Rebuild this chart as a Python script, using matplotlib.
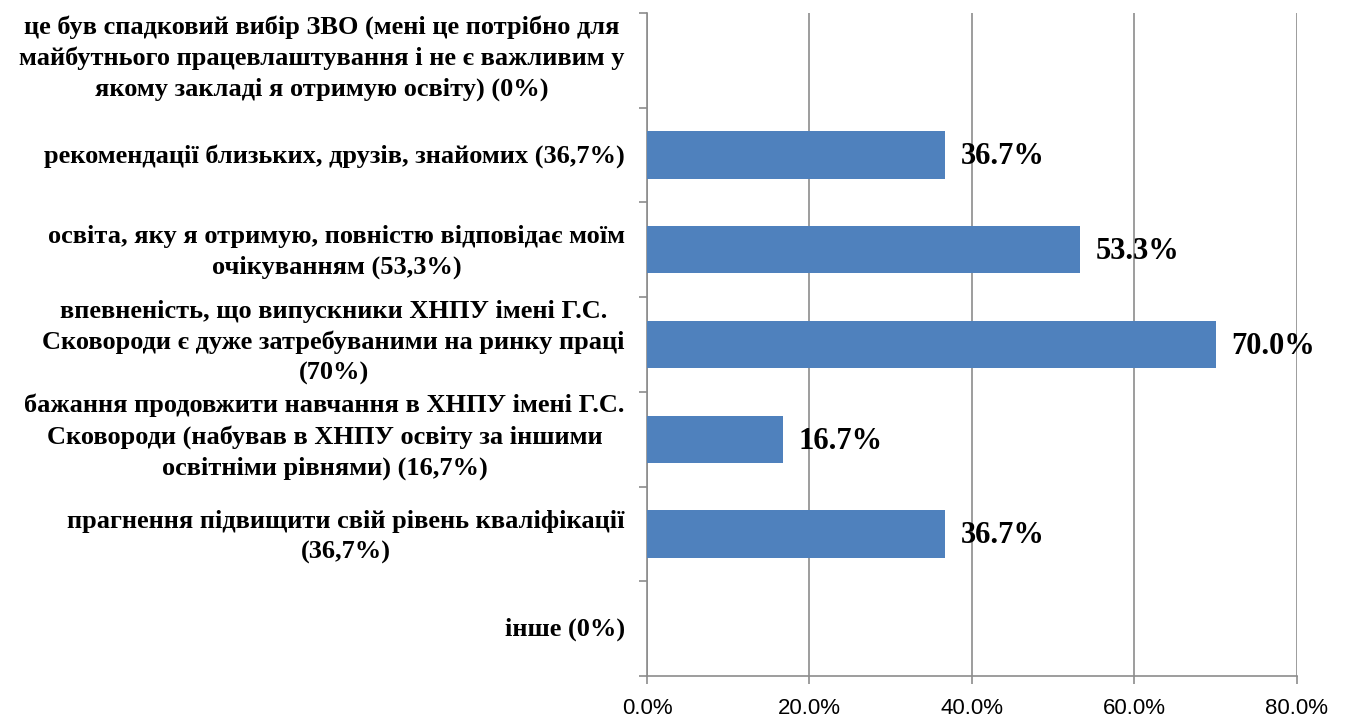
import matplotlib
matplotlib.use("Agg")
import matplotlib.pyplot as plt
import matplotlib.transforms as mtransforms
import numpy as np
from matplotlib.ticker import FixedLocator, PercentFormatter

# categories from bottom to top, as drawn
categories = [
    "інше (0%)",
    "прагнення підвищити свій рівень кваліфікації\n(36,7%)",
    "бажання продовжити навчання в ХНПУ імені Г.С.\nСковороди (набував в ХНПУ освіту за іншими\nосвітніми рівнями) (16,7%)",
    "впевненість, що випускники ХНПУ імені Г.С.\nСковороди є дуже затребуваними на ринку праці\n(70%)",
    "освіта, яку я отримую, повністю відповідає моїм\nочікуванням (53,3%)",
    "рекомендації близьких, друзів, знайомих (36,7%)",
    "це був спадковий вибір ЗВО (мені це потрібно для\nмайбутнього працевлаштування і не є важливим у\nякому закладі я отримую освіту) (0%)",
]
values = [0.0, 36.7, 16.7, 70.0, 53.3, 36.7, 0.0]
x_ticks = [0, 20, 40, 60, 80]

serif = ["Liberation Serif", "DejaVu Serif"]
grey = "#8c8c8c"

fig = plt.figure(figsize=(13.48, 7.21), dpi=100)
ax = fig.add_axes([0.48, 0.0624, 0.482, 0.9196])

y = np.arange(len(categories))
ax.barh(y, values, height=0.5, color="#4F81BD", zorder=3)

for yi, v in zip(y, values):
    if v > 0:
        ax.text(v + 1.9, yi - 0.02, f"{v:.1f}%", va="center", ha="left",
                fontsize=22, fontweight="bold", family=serif, zorder=4)

ax.set_xlim(0, 80)
ax.set_ylim(-0.5, len(categories) - 0.5)
ax.xaxis.set_major_locator(FixedLocator(x_ticks))
ax.xaxis.set_major_formatter(PercentFormatter(decimals=1))
ax.grid(axis="x", color=grey, linewidth=1.2, zorder=0)

ax.set_yticks(y)
ax.set_yticklabels(categories, fontsize=19, fontweight="bold", family=serif,
                   multialignment="center", linespacing=1.42)
ax.tick_params(axis="y", which="major", length=0, pad=16)
ax.yaxis.set_minor_locator(FixedLocator(np.arange(-0.5, len(categories), 1.0)))
ax.tick_params(axis="y", which="minor", length=6, color=grey, width=1.2)
ax.tick_params(axis="x", length=6, color=grey, width=1.2, pad=10)
for lab in ax.get_xticklabels():
    lab.set_fontsize(16)
    lab.set_family(["Liberation Sans Narrow", "Liberation Sans"])

# nudge the wrapped labels up a little, like the original layout
shift_px = {1: 2, 2: 4, 3: 9}
for lab in ax.get_yticklabels():
    n = lab.get_text().count("\n") + 1
    off = mtransforms.ScaledTranslation(0, shift_px[n] / 100, fig.dpi_scale_trans)
    lab.set_transform(lab.get_transform() + off)

for side in ("top", "right"):
    ax.spines[side].set_visible(False)
for side in ("left", "bottom"):
    ax.spines[side].set_color(grey)
    ax.spines[side].set_linewidth(1.2)

fig.savefig("out.png", dpi=100)
